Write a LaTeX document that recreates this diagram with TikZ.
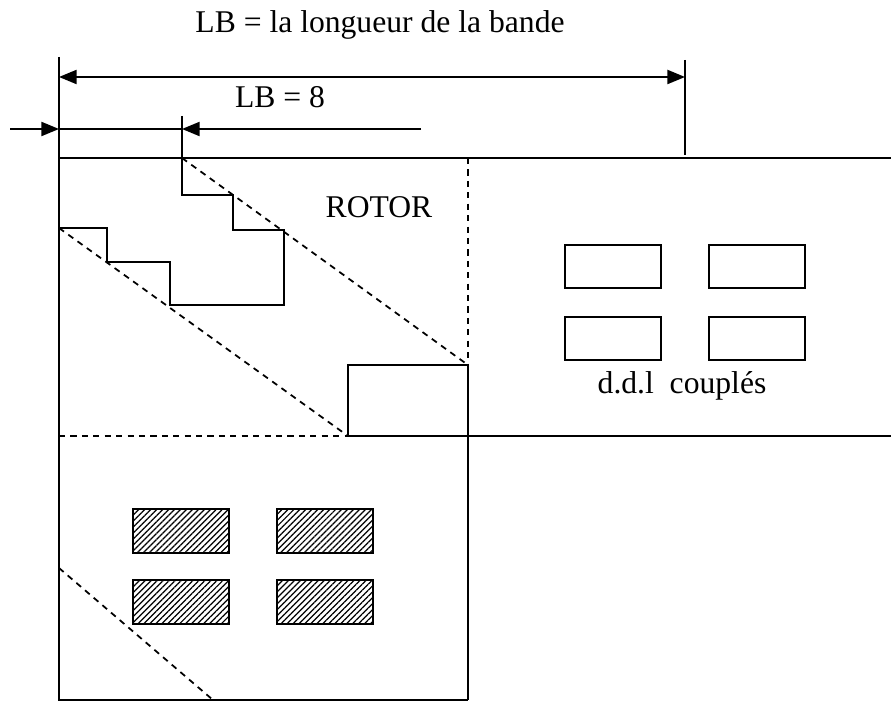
\documentclass[tikz,border=0pt]{standalone}
\usepackage{fontspec}
\setmainfont{Liberation Serif}
\usetikzlibrary{arrows.meta,patterns.meta}

\begin{document}
\begin{tikzpicture}[x=0.02cm, y=-0.02cm, line width=1pt,
        dim/.style={{Triangle[length=10pt,width=8pt]}-{Triangle[length=10pt,width=8pt]}},
        tipR/.style={-{Triangle[length=10pt,width=8pt]}},
        cut/.style={dash pattern=on 3.5pt off 3pt, line width=1pt},
        slot/.style={draw, line width=1.2pt},
        hatch/.style={slot, pattern={Lines[angle=45,distance=2.4pt,line width=0.7pt]}},
        lbl/.style={font=\fontsize{18}{21}\selectfont, anchor=base, inner sep=0pt}]
        \useasboundingbox (0,0) rectangle (891,702);

        % Labels
        \node[lbl] (titre) at (380,33) {LB = la longueur de la bande};
        \node[lbl] (lb) at (280,108) {LB = 8};
        \node[lbl] (rotor) at (379,218) {ROTOR};
        \node[lbl] (ddl) at (682,393) {d.d.l~ couplés};

        % Band length and bandwidth dimensions
        \coordinate (g0) at (59,77);
        \coordinate (d0) at (685,77);
        \draw[dim] (g0) -- (d0);
        \draw (685,60) -- (685,155);
        \coordinate (a0) at (10,129);
        \coordinate (a1) at (59,129);
        \coordinate (a2) at (182,129);
        \coordinate (a3) at (421,129);
        \draw[tipR] (a0) -- (a1);
        \draw (a1) -- (a2);
        \draw[tipR] (a3) -- (a2);

        % Matrix outline
        \draw (59,57) -- (59,700) -- (468,700);
        \draw (59,158) -- (891,158);
        \draw (468,436) -- (891,436);
        \draw (468,365) -- (468,700);
        \draw[cut] (468,158) -- (468,365);
        \draw[cut] (59,436) -- (348,436);
        \draw[line width=1.2pt] (348,365) rectangle (468,436);

        % Skyline profile
        \draw (182,116) -- (182,195) -- (233,195) -- (233,230) -- (284,230)
            -- (284,305) -- (170,305) -- (170,262) -- (107,262) -- (107,228) -- (59,228);

        % Band limits
        \draw[cut] (182,158) -- (468,365);
        \draw[cut] (59,228) -- (348,436);
        \draw[cut] (59,568) -- (213,700);

        % Coupled dofs and their hatched counterparts
        \foreach \x in {565,709} {
            \foreach \y in {245,317} {
                \draw[slot] (\x,\y) rectangle ++(96,43);
            }
        }
        \foreach \x in {133,277} {
            \foreach \y in {509,580} {
                \draw[hatch] (\x,\y) rectangle ++(96,44);
            }
        }
    \end{tikzpicture}
\end{document}
